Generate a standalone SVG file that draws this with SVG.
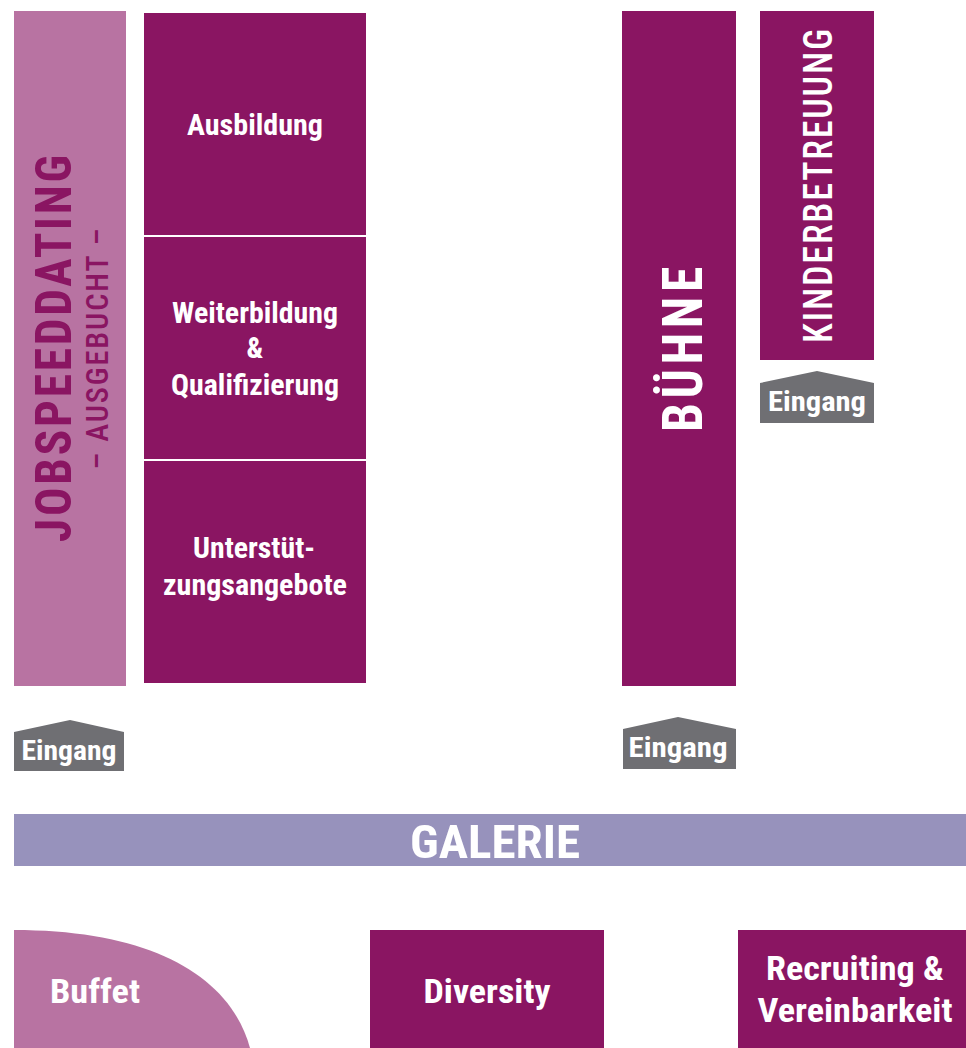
<svg xmlns="http://www.w3.org/2000/svg" width="966" height="1048" viewBox="0 0 966 1048">
<style>
.t{font-family:"Roboto Condensed",Roboto,"Liberation Sans",sans-serif;font-weight:bold;fill:#fff;text-anchor:middle}
.purple{fill:#8a1562}
.pink{fill:#b873a2}
.gray{fill:#6f6f73}
</style>
<rect width="966" height="1048" fill="#fff"/>
<g id="jobspeeddating">
<rect class="pink" x="14" y="11" width="112" height="675"/>
<text class="t" style="fill:#8a1562" font-size="50" letter-spacing="3" transform="translate(71,347) rotate(-90)" textLength="390" lengthAdjust="spacingAndGlyphs">JOBSPEEDDATING</text>
<text class="t" style="fill:#8a1562;font-weight:500" font-size="32" letter-spacing="2" transform="translate(108,348) rotate(-90)" textLength="243" lengthAdjust="spacingAndGlyphs">– AUSGEBUCHT –</text>
</g>
<g id="ausbildung">
<rect class="purple" x="144" y="13" width="222" height="222"/>
<text class="t" x="255" y="135" font-size="29" textLength="136" lengthAdjust="spacingAndGlyphs">Ausbildung</text>
</g>
<g id="weiterbildung">
<rect class="purple" x="144" y="237" width="222" height="222"/>
<text class="t" x="255" y="323" font-size="29" textLength="166" lengthAdjust="spacingAndGlyphs">Weiterbildung</text>
<text class="t" x="255" y="358" font-size="29">&amp;</text>
<text class="t" x="255" y="395" font-size="29" textLength="168" lengthAdjust="spacingAndGlyphs">Qualifizierung</text>
</g>
<g id="unterstuetzung">
<rect class="purple" x="144" y="461" width="222" height="222"/>
<text class="t" x="254" y="558" font-size="29" textLength="122" lengthAdjust="spacingAndGlyphs">Unterstüt-</text>
<text class="t" x="255" y="595" font-size="29" textLength="184" lengthAdjust="spacingAndGlyphs">zungsangebote</text>
</g>
<g id="buehne">
<rect class="purple" x="622" y="11" width="114" height="675"/>
<text class="t" font-size="56" letter-spacing="5" transform="translate(702,347) rotate(-90)" textLength="170" lengthAdjust="spacingAndGlyphs">BÜHNE</text>
</g>
<g id="kinderbetreuung">
<rect class="purple" x="760" y="11" width="114" height="349"/>
<text class="t" style="font-weight:500" font-size="40" letter-spacing="2" transform="translate(832,185) rotate(-90)" textLength="316" lengthAdjust="spacingAndGlyphs">KINDERBETREUUNG</text>
</g>
<g id="eingang-kinder">
<polygon class="gray" points="760,383 817,371 874,383 874,423 760,423"/>
<text class="t" x="817" y="411" font-size="28" textLength="98" lengthAdjust="spacingAndGlyphs">Eingang</text>
</g>
<g id="eingang-links">
<polygon class="gray" points="14,732 70,720 124,732 124,771 14,771"/>
<text class="t" x="69" y="760" font-size="28" textLength="95" lengthAdjust="spacingAndGlyphs">Eingang</text>
</g>
<g id="eingang-buehne">
<polygon class="gray" points="623,729 678,717 736,729 736,769 623,769"/>
<text class="t" x="678" y="757" font-size="28" textLength="99" lengthAdjust="spacingAndGlyphs">Eingang</text>
</g>
<g id="galerie">
<rect x="14" y="814" width="952" height="52" fill="#9792bc"/>
<text class="t" x="495" y="858" font-size="47" textLength="170" lengthAdjust="spacingAndGlyphs">GALERIE</text>
</g>
<g id="buffet">
<path class="pink" d="M14,930 C150,930 230,975 250,1048 L14,1048 Z"/>
<text class="t" x="95" y="1003" font-size="33" textLength="90" lengthAdjust="spacingAndGlyphs">Buffet</text>
</g>
<g id="diversity">
<rect class="purple" x="370" y="930" width="234" height="118"/>
<text class="t" x="487" y="1003" font-size="33" textLength="127" lengthAdjust="spacingAndGlyphs">Diversity</text>
</g>
<g id="recruiting">
<rect class="purple" x="738" y="930" width="228" height="118"/>
<text class="t" x="855" y="980" font-size="33" textLength="178" lengthAdjust="spacingAndGlyphs">Recruiting &amp;</text>
<text class="t" x="855" y="1022" font-size="33" textLength="195" lengthAdjust="spacingAndGlyphs">Vereinbarkeit</text>
</g>
<g id="connectors"/>
</svg>
